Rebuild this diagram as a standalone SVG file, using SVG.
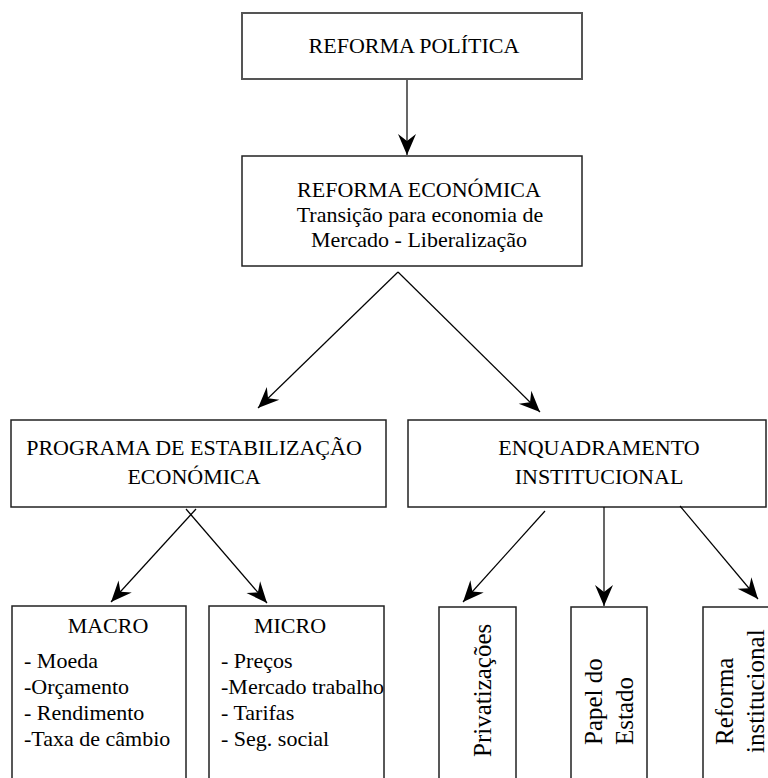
<svg xmlns="http://www.w3.org/2000/svg" width="768" height="778" viewBox="0 0 768 778">
<style>
  .box { fill: #ffffff; stroke: #222; stroke-width: 1.5; }
  .t { font-family: "Liberation Serif", "Times New Roman", serif; font-size: 22px; fill: #000; }
  .c { text-anchor: middle; }
  .r { font-family: "Liberation Serif", "Times New Roman", serif; font-size: 25px; fill: #000; }
  .conn line { stroke: #000; stroke-width: 1.2; fill: none; marker-end: url(#ah); }
</style>
<defs>
  <marker id="ah" markerUnits="userSpaceOnUse" viewBox="-22 -11 24 22" refX="0" refY="0" markerWidth="24" markerHeight="22" orient="auto">
    <path d="M0,0 L-21,-9 L-14,0 L-21,9 Z" fill="#000"/>
  </marker>
</defs>
<rect width="768" height="778" fill="#fff"/>

<g id="reforma-politica">
  <rect class="box" x="242" y="13" width="340" height="66" style="stroke:#555;stroke-width:2"/>
  <text class="t c" x="414" y="53">REFORMA POLÍTICA</text>
</g>

<g id="reforma-economica">
  <rect class="box" x="242" y="156" width="340" height="110"/>
  <text class="t c" x="419" y="197">REFORMA ECONÓMICA</text>
  <text class="t c" x="420" y="222">Transição para economia de</text>
  <text class="t c" x="419" y="247">Mercado - Liberalização</text>
</g>

<g id="programa-estabilizacao">
  <rect class="box" x="11" y="420" width="375" height="87"/>
  <text class="t c" x="194" y="455">PROGRAMA DE ESTABILIZAÇÃO</text>
  <text class="t c" x="194" y="484">ECONÓMICA</text>
</g>

<g id="enquadramento">
  <rect class="box" x="408" y="420" width="358" height="87"/>
  <text class="t c" x="599" y="455">ENQUADRAMENTO</text>
  <text class="t c" x="599" y="484">INSTITUCIONAL</text>
</g>

<g id="macro">
  <rect class="box" x="12" y="606" width="174" height="200"/>
  <text class="t c" x="108" y="633">MACRO</text>
  <text class="t" x="24" y="668">- Moeda</text>
  <text class="t" x="24" y="694">-Orçamento</text>
  <text class="t" x="24" y="720">- Rendimento</text>
  <text class="t" x="24" y="746">-Taxa de câmbio</text>
</g>

<g id="micro">
  <rect class="box" x="209" y="606" width="175" height="200"/>
  <text class="t c" x="290" y="633">MICRO</text>
  <text class="t" x="221" y="668">- Preços</text>
  <text class="t" x="221" y="694">-Mercado trabalho</text>
  <text class="t" x="221" y="720">- Tarifas</text>
  <text class="t" x="221" y="746">- Seg. social</text>
</g>

<g id="privatizacoes">
  <rect class="box" x="439" y="607" width="77" height="200"/>
  <text class="r" transform="translate(491,757) rotate(-90)">Privatizações</text>
</g>

<g id="papel-estado">
  <rect class="box" x="571" y="607" width="76" height="200"/>
  <text class="r" transform="translate(602,745) rotate(-90)">Papel do</text>
  <text class="r" transform="translate(633,745) rotate(-90)">Estado</text>
</g>

<g id="reforma-institucional">
  <rect class="box" x="703" y="607" width="70" height="200"/>
  <text class="r" transform="translate(733,745) rotate(-90)">Reforma</text>
  <text class="r" transform="translate(764,753) rotate(-90)">institucional</text>
</g>

<g id="connectors" class="conn">
  <line x1="407" y1="80" x2="407" y2="155"/>
  <line x1="398" y1="272" x2="258" y2="408"/>
  <line x1="398" y1="272" x2="540" y2="412"/>
  <line x1="196" y1="509" x2="111" y2="602"/>
  <line x1="186" y1="509" x2="267" y2="603"/>
  <line x1="545" y1="511" x2="463" y2="602"/>
  <line x1="604" y1="507" x2="604" y2="606"/>
  <line x1="680" y1="506" x2="758" y2="599"/>
</g>
</svg>
